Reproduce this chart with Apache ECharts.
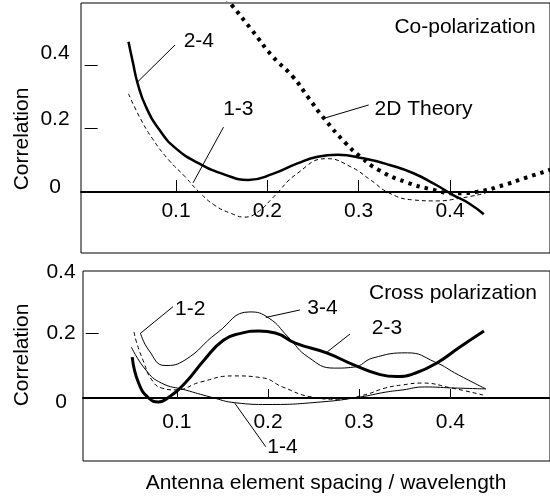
<!DOCTYPE html>
<html>
<head>
<meta charset="utf-8">
<script src="https://cdn.jsdelivr.net/npm/echarts@6/dist/echarts.min.js"></script>
<style>
  html, body { margin: 0; padding: 0; background: #fff; }
  #chart { width: 550px; height: 497px; }
</style>
</head>
<body>
<div id="chart"></div>
<script>
// [spacing / wavelength, correlation]
const co24 = [[0.048, 0.473], [0.053, 0.405], [0.058, 0.342], [0.067, 0.269], [0.082, 0.195], [0.0995, 0.138], [0.125, 0.090], [0.154, 0.054], [0.179, 0.038], [0.206, 0.057], [0.233, 0.090], [0.255, 0.111], [0.277, 0.117], [0.305, 0.106], [0.334, 0.085], [0.36, 0.059], [0.385, 0.022], [0.403, -0.009], [0.421, -0.036], [0.437, -0.070]]
const co13 = [[0.048, 0.309], [0.060, 0.237], [0.074, 0.169], [0.092, 0.101], [0.110, 0.048], [0.125, 0.001], [0.143, -0.043], [0.161, -0.068], [0.175, -0.079], [0.19, -0.062], [0.206, -0.018], [0.233, 0.059], [0.265, 0.105], [0.291, 0.080], [0.313, 0.038], [0.334, -0.004], [0.36, -0.025], [0.385, -0.028], [0.41, -0.02], [0.439, -0.004]]
const theory2d = [[0.155, 0.611], [0.161, 0.589], [0.183, 0.510], [0.206, 0.426], [0.228, 0.363], [0.245, 0.297], [0.262, 0.232], [0.286, 0.153], [0.302, 0.111], [0.322, 0.069], [0.351, 0.032], [0.38, 0.008], [0.405, -0.004], [0.43, 0.001], [0.459, 0.022], [0.481, 0.043], [0.51, 0.07]]

const cr12 = [[0.053, 0.203], [0.056, 0.169], [0.064, 0.108], [0.071, 0.062], [0.083, 0.031], [0.099, 0.025], [0.126, 0.049], [0.162, 0.068], [0.194, 0.062], [0.216, 0.034], [0.248, 0.003], [0.276, -0.004], [0.305, 0.009], [0.329, 0.031], [0.347, 0.04], [0.369, 0.046], [0.401, 0.031], [0.436, 0.009]]
const cr34 = [[0.06, 0.2], [0.069, 0.148], [0.087, 0.10], [0.109, 0.117], [0.144, 0.2], [0.18, 0.265], [0.201, 0.246], [0.222, 0.188], [0.244, 0.126], [0.273, 0.092], [0.294, 0.095], [0.315, 0.123], [0.353, 0.139], [0.383, 0.111], [0.409, 0.071], [0.439, 0.028]]
const cr23 = [[0.051, 0.126], [0.058, 0.046], [0.069, 0.0], [0.08, -0.012], [0.09, 0.0], [0.109, 0.046], [0.13, 0.117], [0.151, 0.178], [0.17, 0.199], [0.19, 0.206], [0.208, 0.2], [0.23, 0.169], [0.265, 0.138], [0.294, 0.102], [0.323, 0.072], [0.341, 0.066], [0.362, 0.077], [0.387, 0.111], [0.409, 0.154], [0.437, 0.206]]
const cr14 = [[0.05, 0.157], [0.066, 0.086], [0.083, 0.046], [0.109, 0.025], [0.137, 0.003], [0.165, -0.015], [0.2, -0.02], [0.259, -0.012], [0.301, 0.003], [0.329, 0.018], [0.348, 0.025], [0.372, 0.034], [0.401, 0.031], [0.439, 0.028]]

const xTicks = [0.1, 0.2, 0.3, 0.4]
const yTicksCo = [0.2, 0.4]
const yTicksCross = [0.2]
const yLabels = [0, 0.2, 0.4]

// label text spot and leader line [from, to], data coords
const notes = {
  co24: { text: '2-4', at: [0.125, 0.474], line: [[0.099, 0.463], [0.0574, 0.345]] },
  co13: { text: '1-3', at: [0.1683, 0.261], line: [[0.152, 0.204], [0.1187, 0.029]] },
  theory2d: { text: '2D Theory', at: [0.371, 0.261], line: [[0.311, 0.274], [0.262, 0.232]] },
  cr12: { text: '1-2', at: [0.1147, 0.274], line: [[0.0957, 0.281], [0.06, 0.199]] },
  cr34: { text: '3-4', at: [0.2597, 0.275], line: [[0.235, 0.271], [0.1975, 0.248]] },
  cr23: { text: '2-3', at: [0.3305, 0.214], line: [[0.29, 0.197], [0.265, 0.142]] },
  cr14: { text: '1-4', at: [0.2158, -0.151], line: [[0.1975, -0.15], [0.1636, -0.0163]] }
}

const FONT = "'Liberation Sans', Arial, sans-serif"
const FS = 21

function fmt(v) {
  const r = Math.round(v * 10) / 10
  return r === 0 ? '0' : r.toFixed(1)
}

// labels sit under the zero line, not under the frame, hence the negative margin
function xAxisOf(grid, min, max, margin) {
  return {
    type: 'value', gridIndex: grid, min: min, max: max,
    axisLine: { onZero: true, lineStyle: { color: '#000', width: 2 } },
    axisTick: { inside: true, length: grid === 0 ? 12 : 9, customValues: xTicks, lineStyle: { color: '#000', width: 1 } },
    axisLabel: { customValues: xTicks, formatter: fmt, margin: margin, color: '#000', fontSize: FS, fontFamily: FONT },
    splitLine: { show: false }
  }
}

function yAxisOf(grid, min, max, ticks, labelVals, margin) {
  return {
    type: 'value', gridIndex: grid, min: min, max: max,
    axisLine: { show: false },
    axisTick: { show: true, inside: true, length: 13, customValues: ticks, lineStyle: { color: '#000', width: 1 } },
    axisLabel: { customValues: labelVals, formatter: v => fmt(Math.round(v * 5) / 5), align: 'center', margin: margin, color: '#000', fontSize: FS, fontFamily: FONT },
    splitLine: { show: false }
  }
}

function curve(key, data, grid, width, type) {
  const n = notes[key]
  return {
    type: 'line', xAxisIndex: grid, yAxisIndex: grid, data: data,
    smooth: 0.5, showSymbol: false, symbol: 'none', clip: true, silent: true,
    lineStyle: { color: '#000', width: width, type: type, cap: 'butt' },
    markLine: {
      symbol: 'none', silent: true, animation: false,
      label: { show: false },
      lineStyle: { color: '#000', width: 1, type: 'solid' },
      data: [[{ coord: n.line[0] }, { coord: n.line[1] }]]
    },
    markPoint: {
      symbol: 'circle', symbolSize: 1, silent: true, animation: false,
      itemStyle: { color: 'rgba(0,0,0,0)' },
      label: { show: true, position: 'inside', formatter: n.text, color: '#000', fontSize: FS, fontFamily: FONT },
      data: [{ coord: n.at }]
    }
  }
}

const chart = echarts.init(document.getElementById('chart'))
chart.setOption({
  animation: false,
  backgroundColor: '#fff',
  grid: [
    { left: 81, top: 3, width: 474, height: 250, show: true, borderColor: '#000', borderWidth: 1 },
    { left: 83, top: 271, width: 478, height: 190, show: true, borderColor: '#000', borderWidth: 1 }
  ],
  xAxis: [xAxisOf(0, -0.004, 0.5095, -52), xAxisOf(1, -0.003, 0.5094, -49)],
  yAxis: [
    yAxisOf(0, -0.192, 0.595, yTicksCo, yLabels.map((v, i) => v + [0.016, 0.03, 0.038][i]), 26),
    yAxisOf(1, -0.194, 0.391, yTicksCross, yLabels.map((v, i) => v + [-0.012, 0, -0.012][i]), 22)
  ],
  series: [
    curve('co24', co24, 0, 2.5, 'solid'),
    curve('co13', co13, 0, 1, [4, 3]),
    curve('theory2d', theory2d, 0, 4, [3.5, 5]),
    curve('cr12', cr12, 1, 1, [4, 3]),
    curve('cr34', cr34, 1, 1, 'solid'),
    curve('cr23', cr23, 1, 3, 'solid'),
    curve('cr14', cr14, 1, 1, 'solid')
  ],
  graphic: [
    { type: 'text', x: 465, y: 27, style: { text: 'Co-polarization', align: 'center', verticalAlign: 'middle', fill: '#000', fontSize: FS, fontFamily: FONT } },
    { type: 'text', x: 453, y: 293, style: { text: 'Cross polarization', align: 'center', verticalAlign: 'middle', fill: '#000', fontSize: FS, fontFamily: FONT } },
    { type: 'text', x: 22, y: 139, rotation: Math.PI / 2, style: { text: 'Correlation', align: 'center', verticalAlign: 'middle', fill: '#000', fontSize: FS, fontFamily: FONT } },
    { type: 'text', x: 22, y: 355, rotation: Math.PI / 2, style: { text: 'Correlation', align: 'center', verticalAlign: 'middle', fill: '#000', fontSize: FS, fontFamily: FONT } },
    { type: 'text', x: 326, y: 483, style: { text: 'Antenna element spacing / wavelength', align: 'center', verticalAlign: 'middle', fill: '#000', fontSize: FS, fontFamily: FONT } }
  ]
})
</script>
</body>
</html>
